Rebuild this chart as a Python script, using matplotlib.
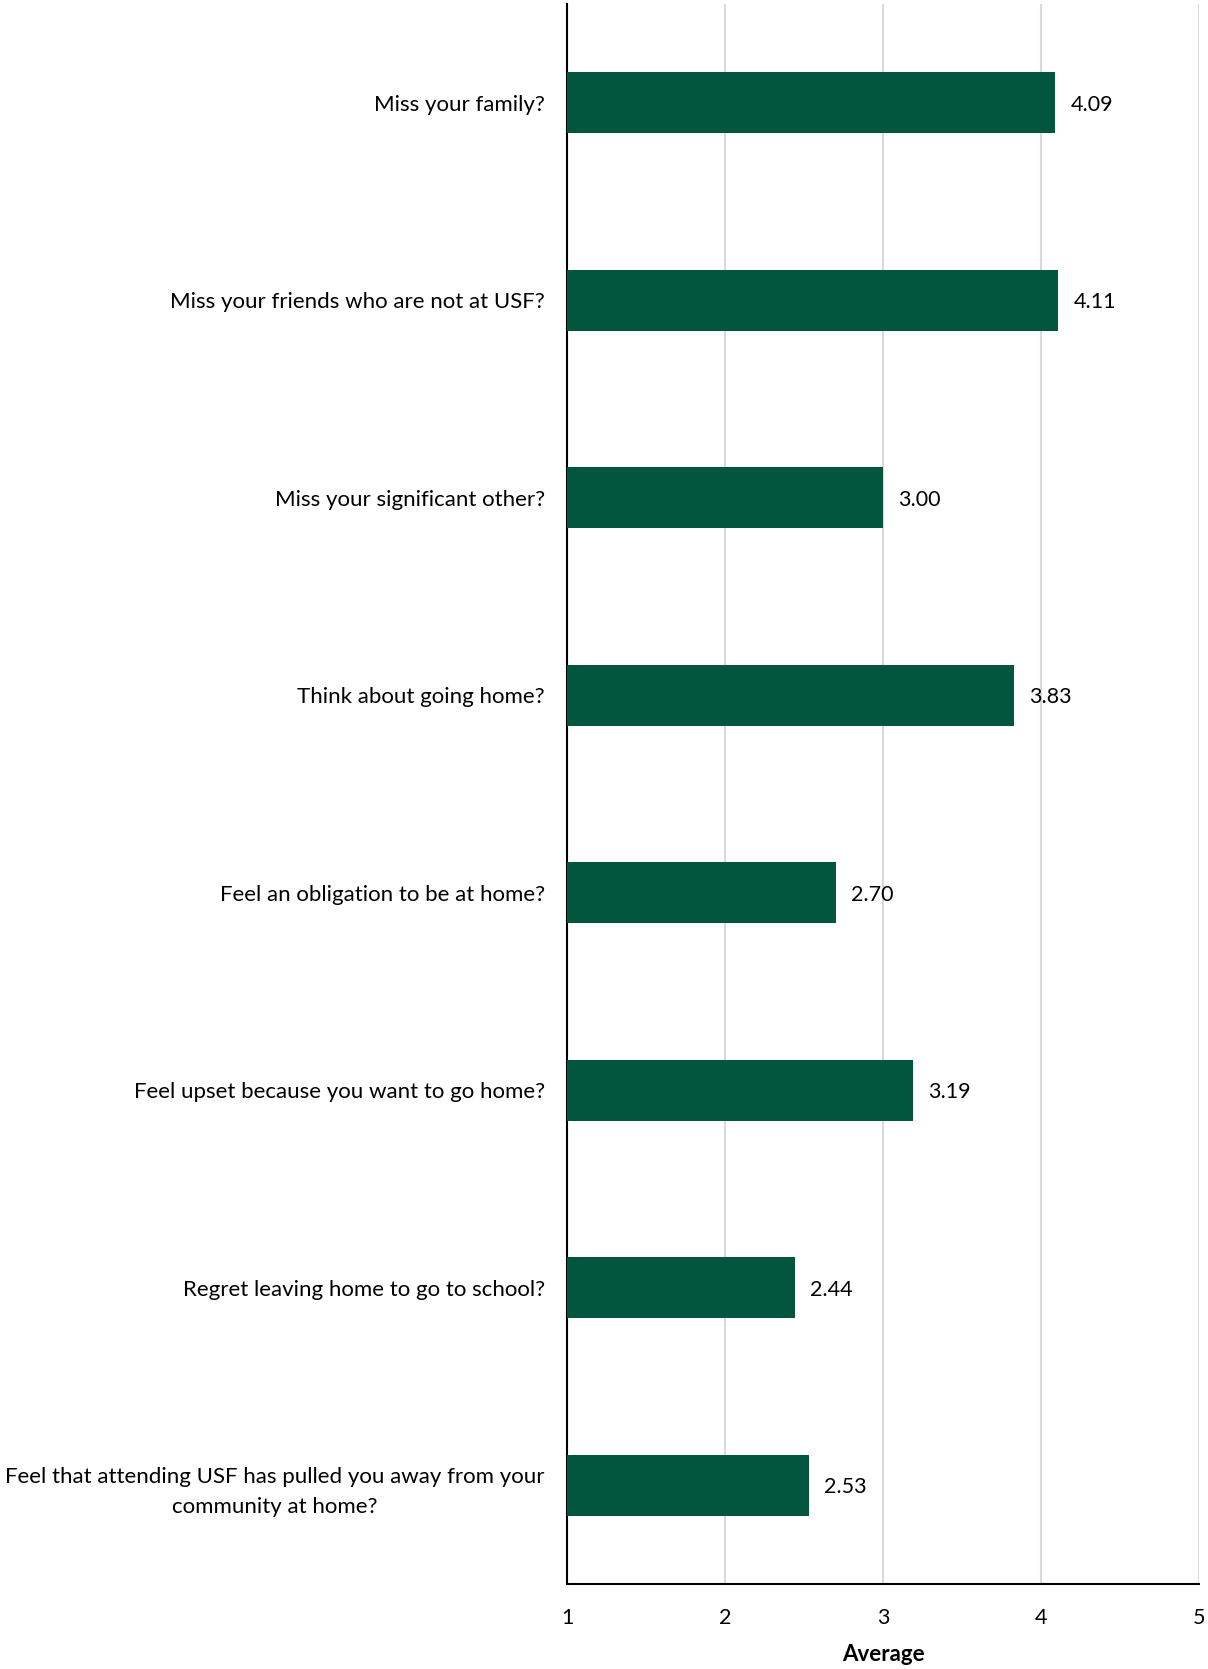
import matplotlib
matplotlib.use("Agg")
import matplotlib.pyplot as plt

# survey items (top to bottom) and their average scores
questions = [
    "Miss your family?",
    "Miss your friends who are not at USF?",
    "Miss your significant other?",
    "Think about going home?",
    "Feel an obligation to be at home?",
    "Feel upset because you want to go home?",
    "Regret leaving home to go to school?",
    "Feel that attending USF has pulled you away from your\ncommunity at home?",
]
averages = [4.09, 4.11, 3.00, 3.83, 2.70, 3.19, 2.44, 2.53]
x_ticks = [1, 2, 3, 4, 5]

plt.rcParams["font.family"] = ["Lato", "DejaVu Sans"]

fig = plt.figure(figsize=(12.08, 16.69), dpi=100)
ax = fig.add_axes([0.4694, 0.0509, 0.5232, 0.9467])

ypos = list(range(len(questions)))
base = x_ticks[0]
ax.barh(ypos, [v - base for v in averages], left=base, height=0.31,
        color="#02563d", zorder=3)

for y, v in zip(ypos, averages):
    ax.annotate("{:.2f}".format(v), (v, y), xytext=(11, -1.5), textcoords="offset points",
                va="center", ha="left", fontsize=15.5, color="black")

ax.set_xlim(1, 5)
ax.set_ylim(len(questions) - 0.5, -0.5)
ax.set_xticks(x_ticks)
ax.set_xticklabels([str(t) for t in x_ticks], fontsize=15.5)
ax.set_yticks(ypos)
ax.set_yticklabels(questions, fontsize=16, multialignment="center", linespacing=1.6)
ax.tick_params(axis="both", length=0)
ax.tick_params(axis="x", pad=17)
ax.tick_params(axis="y", pad=16)

ax.xaxis.grid(True, color="#d9d9d9", linewidth=1.5, zorder=0)
ax.set_axisbelow(True)
for side in ["top", "right"]:
    ax.spines[side].set_visible(False)
ax.spines["left"].set_linewidth(1.5)
ax.spines["bottom"].set_linewidth(1.5)

ax.set_xlabel("Average", fontsize=16, fontweight="bold", labelpad=12)

fig.savefig("out.png", dpi=100)
